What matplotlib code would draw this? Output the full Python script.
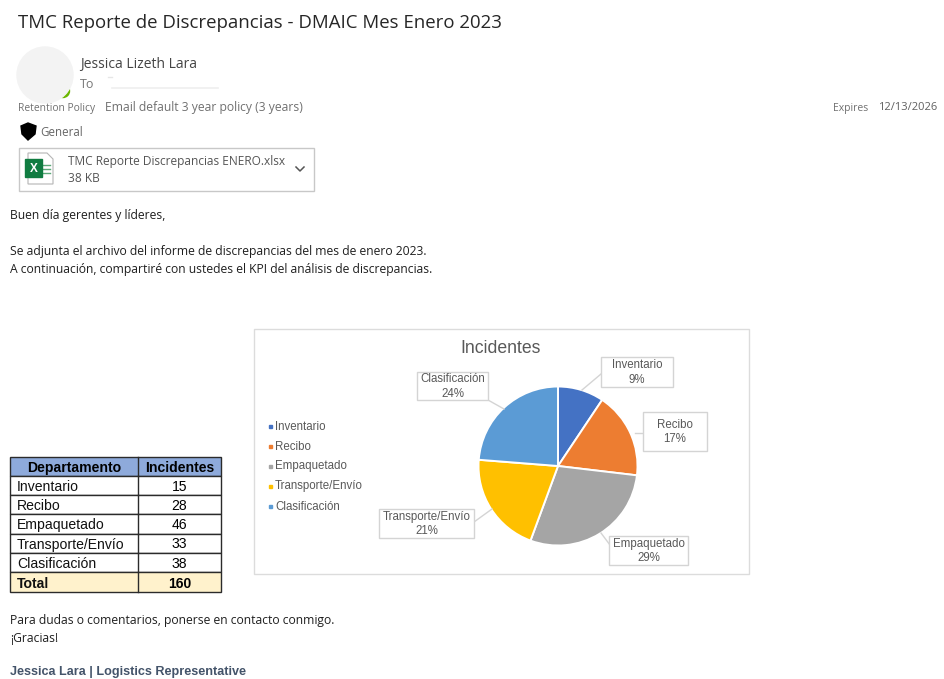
import matplotlib
matplotlib.use('Agg')
import matplotlib.pyplot as plt
from matplotlib.patches import Rectangle, Circle, Polygon

departments = ['Inventario', 'Recibo', 'Empaquetado', 'Transporte/Envío', 'Clasificación']
incidents = [15, 28, 46, 33, 38]
percent_labels = [9, 17, 29, 21, 24]
total_label = 160
slice_colors = ['#4472C4', '#ED7D31', '#A5A5A5', '#FFC000', '#5B9BD5']

table_headers = ['Departamento', 'Incidentes']
table_total = 'Total'

email_subject = 'TMC Reporte de Discrepancias - DMAIC Mes Enero 2023'
body_lines = [
    (215.5, 'Buen día gerentes y líderes,'),
    (251.5, 'Se adjunta el archivo del informe de discrepancias del mes de enero 2023.'),
    (269.5, 'A continuación, compartiré con ustedes el KPI del análisis de discrepancias.'),
    (620.5, 'Para dudas o comentarios, ponerse en contacto conmigo.'),
    (638.5, '¡Gracias!'),
]

MAIL_FONT = 'Open Sans'
CHART_FONT = 'Liberation Sans'

W, H = 945, 679
fig = plt.figure(figsize=(W / 100, H / 100), dpi=100)
ax = fig.add_axes([0, 0, 1, 1])

# y runs downward, so the page can be laid out in pixels from the top left
ax.pie(incidents, colors=slice_colors, center=(558, 466), radius=79.5,
       startangle=-90, counterclock=True, frame=False,
       wedgeprops={'edgecolor': 'white', 'linewidth': 1.4, 'zorder': 3})
ax.set_xlim(0, W)
ax.set_ylim(H, 0)
ax.set_aspect('auto')
ax.axis('off')


def mail_text(x, y, s, size=8.77, color='#1f1f1f', **kw):
    ax.text(x, y, s, fontsize=size, color=color, family=MAIL_FONT, va='center', **kw)


# header of the message
mail_text(18, 23, email_subject, size=13.4, color='#262626')
ax.add_patch(Circle((63, 91), 6.5, color='#6bb700', zorder=1))
ax.add_patch(Circle((45, 75), 28, color='#f3f3f3', zorder=2))
mail_text(80, 64.5, 'Jessica Lizeth Lara', size=10, color='#444444')
mail_text(80, 84, 'To', size=9, color='#777777')
ax.plot([108, 112], [77, 77], color='#e6e6e6', lw=1)
ax.plot([112, 218], [88, 88], color='#efefef', lw=1.2)
mail_text(18, 108, 'Retention Policy', size=7.4, color='#707070')
mail_text(105, 107.5, 'Email default 3 year policy (3 years)', size=8.7, color='#707070')
mail_text(833, 108, 'Expires', size=7.5, color='#707070')
mail_text(878, 107.5, '12/13/2026', size=8, color='#606060')

ax.add_patch(Polygon([(21, 126), (28, 123), (36, 126), (35, 134), (28, 140), (22, 134)],
                     closed=True, color='black', zorder=3))
mail_text(40, 133, 'General', size=8.3, color='#666666')

# attachment card
ax.add_patch(Rectangle((18.5, 147.5), 295, 43, fc='white', ec='#c8c8c8', lw=1))
ax.add_patch(Polygon([(28, 153), (47, 153), (53, 159), (53, 184), (28, 184)],
                     closed=True, fc='white', ec='#b5b5b5', lw=0.8, zorder=3))
for y in (165, 169, 173):
    ax.plot([43, 50], [y, y], color='#5aa877', lw=1, zorder=4)
ax.add_patch(Rectangle((25, 159), 17, 18, color='#107c41', zorder=4))
ax.text(33.5, 168.5, 'X', fontsize=8.5, fontweight='bold', color='white',
        family=CHART_FONT, ha='center', va='center', zorder=5)
mail_text(68, 162, 'TMC Reporte Discrepancias ENERO.xlsx', size=8.6, color='#555555')
mail_text(68, 178, '38 KB', size=8.6, color='#555555')
ax.plot([296, 300, 304], [167, 171, 167], color='#555555', lw=1.1)

for y, line in body_lines:
    mail_text(10, y, line)

# chart frame, title and legend
ax.add_patch(Rectangle((254, 328.5), 495, 245, fc='white', ec='#dcdcdc', lw=1, zorder=0))
ax.text(501, 348.5, 'Incidentes', fontsize=12.7, color='#595959', family=CHART_FONT,
        ha='center', va='center')
legend_y = [426, 446, 466, 486, 506]
for y, name, c in zip(legend_y, departments, slice_colors):
    ax.add_patch(Rectangle((268.5, y - 1.5), 3, 3, color=c))
    ax.text(275, y + 0.5, name, fontsize=8.3, color='#595959', family=CHART_FONT, va='center')

# slice callouts: box, then leader line from the slice to the box
callout_boxes = [(601, 357, 72, 30), (643, 412, 64, 39), (609, 536, 79, 29),
                 (379, 509, 95, 29), (417, 372, 71, 28)]
leaders = [((582, 390), (601, 374)), ((635, 433), (643, 433)), ((601, 533), (610, 545)),
           ((492, 509), (474, 522)), ((504, 409), (488, 400))]
for name, pct, box, lead in zip(departments, percent_labels, callout_boxes, leaders):
    x, y, w, h = box
    ax.plot([lead[0][0], lead[1][0]], [lead[0][1], lead[1][1]], color='#d4d4d4', lw=1, zorder=4)
    ax.add_patch(Rectangle((x, y), w, h, fc='white', ec='#d4d4d4', lw=1, zorder=5))
    ax.text(x + w / 2, y + h / 2 + 0.5, f'{name}\n{pct}%', fontsize=8.3, color='#595959',
            family=CHART_FONT, ha='center', va='center', linespacing=1.25, zorder=6)

# department table
col_x = [10, 138, 221]
row_y = [457, 476, 495, 514, 533.5, 552.5, 572, 592]
rows = [(n, str(v)) for n, v in zip(departments, incidents)]
all_rows = [tuple(table_headers)] + rows + [(table_total, str(total_label))]
for i, (left, right) in enumerate(all_rows):
    top, bottom = row_y[i], row_y[i + 1]
    is_head = i == 0
    is_total = i == len(all_rows) - 1
    fill = '#8EAADB' if is_head else '#FFF2CC' if is_total else 'white'
    ax.add_patch(Rectangle((col_x[0], top), col_x[2] - col_x[0], bottom - top,
                           fc=fill, ec='#2b2b2b', lw=1, zorder=2))
    ax.plot([col_x[1], col_x[1]], [top, bottom], color='#2b2b2b', lw=1, zorder=3)
    weight = 'bold' if is_head or is_total else 'normal'
    mid = (top + bottom) / 2 + 1.5
    if is_head:
        ax.text((col_x[0] + col_x[1]) / 2, mid, left, fontsize=10.1, fontweight=weight,
                color='black', family=CHART_FONT, ha='center', va='center', zorder=4)
    else:
        ax.text(17, mid, left, fontsize=10.1, fontweight=weight, color='#111111',
                family=CHART_FONT, va='center', zorder=4)
    ax.text((col_x[1] + col_x[2]) / 2, mid, right, fontsize=10.1, fontweight=weight,
            color='black', family=CHART_FONT, ha='center', va='center', zorder=4)

ax.text(10, 672, 'Jessica Lara | Logistics Representative', fontsize=9.1, fontweight='bold',
        color='#44546A', family=CHART_FONT, va='center')

fig.savefig('out.png', dpi=100, facecolor='white')
